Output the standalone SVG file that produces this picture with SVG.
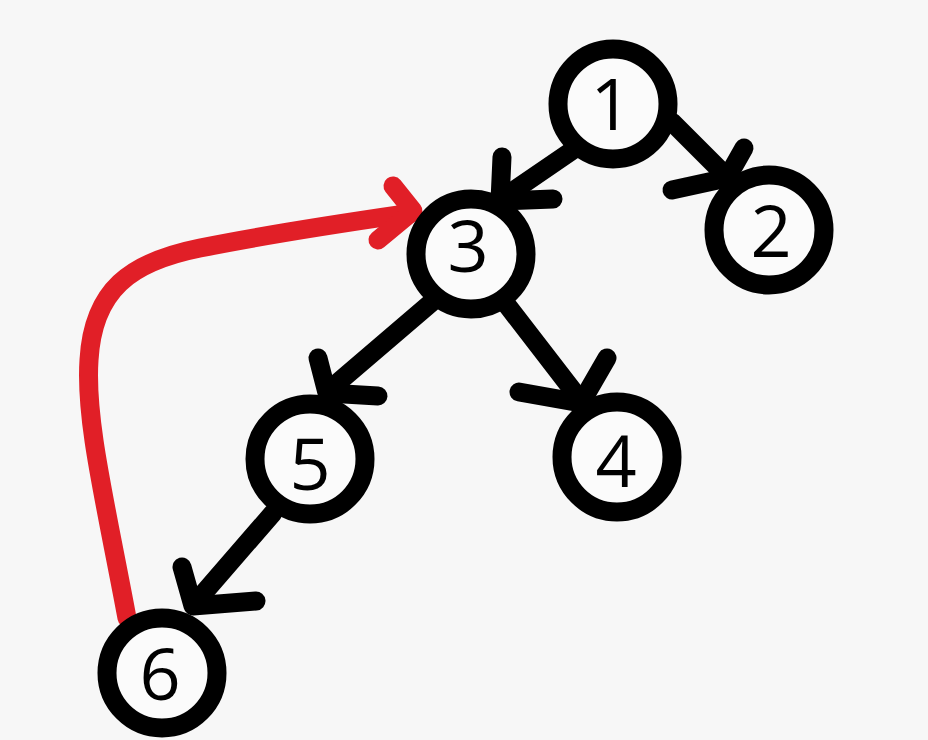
<svg xmlns="http://www.w3.org/2000/svg" width="928" height="740" viewBox="0 0 928 740">
<style>
.edge{fill:none;stroke:#000;stroke-width:19;stroke-linecap:round;stroke-linejoin:round}
.back{fill:none;stroke:#e11f27;stroke-width:19;stroke-linecap:round;stroke-linejoin:round}
.node circle{fill:#fbfbfb;stroke:#000;stroke-width:19}
.node text{font-family:"Open Sans","Noto Sans","Liberation Sans",sans-serif;font-size:72px;fill:#000;text-anchor:middle}
</style>
<rect width="928" height="740" fill="#f7f7f7"/>
<g id="connectors">
<g id="e1-3"><path class="edge" d="M573,150 L500,200"/><path class="edge" d="M502,157 L500,201 L553,199"/></g>
<g id="e1-2"><path class="edge" d="M672,122 L726,176"/><path class="edge" d="M744,148 L727,178 L672,190"/></g>
<g id="e3-4"><path class="edge" d="M507,305 L581,401"/><path class="edge" d="M607,358 L581,403 L519,392"/></g>
<g id="e3-5"><path class="edge" d="M432,302 L328,391"/><path class="edge" d="M318,358 L327,393 L378,396"/></g>
<g id="e5-6"><path class="edge" d="M273,513 L195,603"/><path class="edge" d="M182,567 L193,606 L256,601"/></g>
<g id="e6-3"><path class="back" d="M127,618 C105,500 85,420 89,360 C93,290 130,262 200,248 C280,232 350,222 412,213"/><path class="back" d="M393,186 L413,211 L378,240"/></g>
</g>
<g id="node1" class="node"><circle cx="613" cy="104" r="55"/><text x="611" y="130">1</text></g>
<g id="node2" class="node"><circle cx="769" cy="230" r="55"/><text x="771" y="257">2</text></g>
<g id="node3" class="node"><circle cx="471" cy="254" r="55"/><text x="468" y="272">3</text></g>
<g id="node4" class="node"><circle cx="617" cy="457" r="55"/><text x="616" y="487">4</text></g>
<g id="node5" class="node"><circle cx="310" cy="459" r="55"/><text x="310" y="490">5</text></g>
<g id="node6" class="node"><circle cx="162" cy="673" r="55"/><text x="160" y="700">6</text></g>
</svg>
